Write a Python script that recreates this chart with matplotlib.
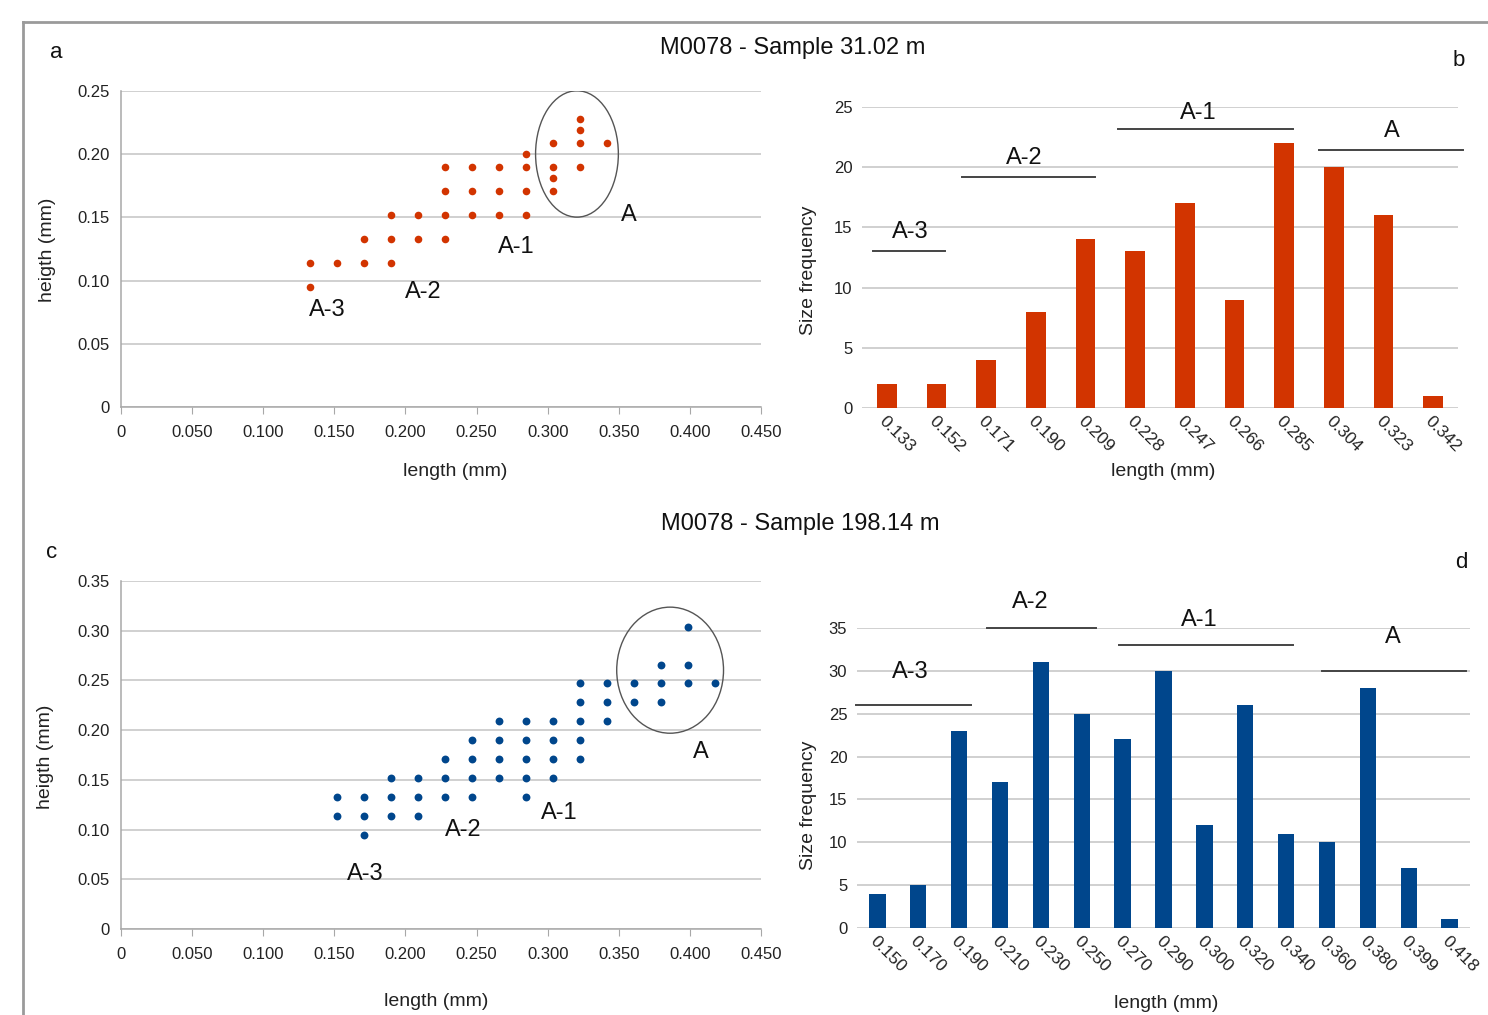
import matplotlib
matplotlib.use("Agg")
import matplotlib.pyplot as plt
from matplotlib.patches import Ellipse
from matplotlib.lines import Line2D

plt.rcParams['font.family'] = ['Liberation Sans', 'DejaVu Sans']

# ---------------- data ----------------
title_top = "M0078 - Sample 31.02 m"
title_bottom = "M0078 - Sample 198.14 m"

# panel a: scatter (length, height) in mm
a_len = [0.133, 0.133, 0.152, 0.171, 0.171, 0.190, 0.190, 0.190, 0.209, 0.209,
         0.228, 0.228, 0.228, 0.228, 0.247, 0.247, 0.247, 0.266, 0.266, 0.266,
         0.285, 0.285, 0.285, 0.285, 0.304, 0.304, 0.304, 0.304,
         0.323, 0.323, 0.323, 0.323, 0.342]
a_hgt = [0.095, 0.114, 0.114, 0.114, 0.133, 0.114, 0.133, 0.152, 0.133, 0.152,
         0.133, 0.152, 0.171, 0.190, 0.152, 0.171, 0.190, 0.152, 0.171, 0.190,
         0.152, 0.171, 0.190, 0.200, 0.171, 0.181, 0.190, 0.209,
         0.190, 0.209, 0.219, 0.228, 0.209]

# panel b: size frequency
b_cats = ["0.133", "0.152", "0.171", "0.190", "0.209", "0.228", "0.247",
          "0.266", "0.285", "0.304", "0.323", "0.342"]
b_vals = [2, 2, 4, 8, 14, 13, 17, 9, 22, 20, 16, 1]

# panel c: scatter (length, height) in mm
c_len = [0.152, 0.152,
         0.171, 0.171, 0.171,
         0.190, 0.190, 0.190,
         0.209, 0.209, 0.209,
         0.228, 0.228, 0.228,
         0.247, 0.247, 0.247, 0.247,
         0.266, 0.266, 0.266, 0.266,
         0.285, 0.285, 0.285, 0.285, 0.285,
         0.304, 0.304, 0.304, 0.304,
         0.323, 0.323, 0.323, 0.323, 0.323,
         0.342, 0.342, 0.342,
         0.361, 0.361,
         0.380, 0.380, 0.380,
         0.399, 0.399, 0.399,
         0.418]
c_hgt = [0.114, 0.133,
         0.095, 0.114, 0.133,
         0.114, 0.133, 0.152,
         0.114, 0.133, 0.152,
         0.133, 0.152, 0.171,
         0.133, 0.152, 0.171, 0.190,
         0.152, 0.171, 0.190, 0.209,
         0.133, 0.152, 0.171, 0.190, 0.209,
         0.152, 0.171, 0.190, 0.209,
         0.171, 0.190, 0.209, 0.228, 0.247,
         0.209, 0.228, 0.247,
         0.228, 0.247,
         0.228, 0.247, 0.266,
         0.247, 0.266, 0.304,
         0.247]

# panel d: size frequency
d_cats = ["0.150", "0.170", "0.190", "0.210", "0.230", "0.250", "0.270", "0.290",
          "0.300", "0.320", "0.340", "0.360", "0.380", "0.399", "0.418"]
d_vals = [4, 5, 23, 17, 31, 25, 22, 30, 12, 26, 11, 10, 28, 7, 1]

x_ticks = [0, 0.05, 0.10, 0.15, 0.20, 0.25, 0.30, 0.35, 0.40, 0.45]
x_ticklabels = ["0", "0.050", "0.100", "0.150", "0.200", "0.250", "0.300", "0.350", "0.400", "0.450"]

RED = "#d23400"
BLUE = "#00468c"
GRID = "#c4c4c4"
SPINE = "#a8a8a8"

W, H = 1488, 1015
fig = plt.figure(figsize=(W / 100, H / 100), dpi=100)


def px_axes(l, t, r, b):
    return fig.add_axes([l / W, 1 - b / H, (r - l) / W, (b - t) / H])


def set_labels(ax, box, xl_center_x, xl_top_y, yl_right_x, yl_center_y):
    l, t, r, b = box
    ax.xaxis.set_label_coords((xl_center_x - l) / (r - l), -(xl_top_y - b) / (b - t))
    ax.yaxis.set_label_coords(-(l - yl_right_x) / (r - l), (b - yl_center_y) / (b - t))


def style_scatter(ax, ymax, yticks, ylabels):
    ax.set_xlim(0, 0.45)
    ax.set_ylim(0, ymax)
    ax.set_xticks(x_ticks)
    ax.set_xticklabels(x_ticklabels, fontsize=12)
    ax.set_yticks(yticks)
    ax.set_yticklabels(ylabels, fontsize=12)
    ax.grid(axis='y', color=GRID, linewidth=1.1)
    ax.set_axisbelow(True)
    for s in ['top', 'right']:
        ax.spines[s].set_visible(False)
    for s in ['left', 'bottom']:
        ax.spines[s].set_color(SPINE)
        ax.spines[s].set_linewidth(1.1)
    ax.tick_params(axis='x', length=5, color=SPINE, pad=8, labelcolor='#222222')
    ax.tick_params(axis='y', length=0, pad=8, labelcolor='#222222')
    ax.set_xlabel("length (mm)", fontsize=14, color='#222222')
    ax.set_ylabel("heigth (mm)", fontsize=14, color='#222222')


def style_bar(ax, cats, vals, color, ymax, yticks):
    x = list(range(len(cats)))
    ax.bar(x, vals, width=0.4, color=color, zorder=3)
    ax.set_xlim(-0.5, len(cats) - 0.5)
    ax.set_ylim(0, ymax)
    ax.set_yticks(yticks)
    ax.set_yticklabels([str(v) for v in yticks], fontsize=12)
    ax.set_xticks(x)
    ax.set_xticklabels(cats, fontsize=12.5, rotation=-45, ha='left', va='top',
                       rotation_mode='anchor')
    ax.grid(axis='y', color=GRID, linewidth=1.1, zorder=0)
    ax.set_axisbelow(True)
    for s in ['top', 'right', 'left', 'bottom']:
        ax.spines[s].set_visible(False)
    ax.tick_params(axis='x', length=0, pad=4, labelcolor='#222222')
    ax.tick_params(axis='y', length=0, pad=7, labelcolor='#222222')
    ax.set_ylabel("Size frequency", fontsize=14, color='#222222')
    ax.set_xlabel("length (mm)", fontsize=14, color='#222222')


def group_line(ax, x0, x1, y, label, tx, ty):
    ax.add_line(Line2D([x0, x1], [y, y], color='#444444', linewidth=1.4, clip_on=False, zorder=4))
    ax.text(tx, ty, label, fontsize=17, ha='center', va='center', color='#111111', clip_on=False)


# ---------- panel a ----------
box_a = (121, 91, 761, 407)
ax_a = px_axes(*box_a)
ax_a.scatter(a_len, a_hgt, s=30, color=RED, zorder=3, linewidths=0)
style_scatter(ax_a, 0.25, [0, 0.05, 0.10, 0.15, 0.20, 0.25],
              ["0", "0.05", "0.10", "0.15", "0.20", "0.25"])
set_labels(ax_a, box_a, 455, 463, 56, 250)
ax_a.add_patch(Ellipse((0.3206, 0.2002), 0.0582, 0.1, fill=False, edgecolor='#555555', linewidth=1.0, zorder=4))
for txt, tx, ty in [("A-3", 0.145, 0.0764), ("A-2", 0.2127, 0.0908), ("A-1", 0.278, 0.1266), ("A", 0.357, 0.152)]:
    ax_a.text(tx, ty, txt, fontsize=17, ha='center', va='center', color='#111111')

# ---------- panel b ----------
box_b = (862, 107, 1458, 408)
ax_b = px_axes(*box_b)
style_bar(ax_b, b_cats, b_vals, RED, 25, [0, 5, 10, 15, 20, 25])
set_labels(ax_b, box_b, 1163, 463, 817, 270)
group_line(ax_b, -0.27, 1.18, 13.0, "A-3", 0.47, 14.6)
group_line(ax_b, 1.51, 4.20, 19.2, "A-2", 2.76, 20.8)
group_line(ax_b, 4.66, 8.18, 23.2, "A-1", 6.28, 24.5)
group_line(ax_b, 8.70, 11.60, 21.4, "A", 10.17, 23.0)

# ---------- panel c ----------
box_c = (121, 581, 761, 929)
ax_c = px_axes(*box_c)
ax_c.scatter(c_len, c_hgt, s=32, color=BLUE, zorder=3, linewidths=0)
style_scatter(ax_c, 0.35, [0, 0.05, 0.10, 0.15, 0.20, 0.25, 0.30, 0.35],
              ["0", "0.05", "0.10", "0.15", "0.20", "0.25", "0.30", "0.35"])
set_labels(ax_c, box_c, 436, 993, 54, 757)
ax_c.add_patch(Ellipse((0.3861, 0.2603), 0.0751, 0.1268, fill=False, edgecolor='#555555', linewidth=1.0, zorder=4))
for txt, tx, ty in [("A-3", 0.172, 0.0553), ("A-2", 0.2404, 0.0996), ("A-1", 0.3083, 0.1164), ("A", 0.4078, 0.1778)]:
    ax_c.text(tx, ty, txt, fontsize=17, ha='center', va='center', color='#111111')

# ---------- panel d ----------
box_d = (857, 628, 1470, 928)
ax_d = px_axes(*box_d)
style_bar(ax_d, d_cats, d_vals, BLUE, 35, [0, 5, 10, 15, 20, 25, 30, 35])
set_labels(ax_d, box_d, 1166, 995, 817, 805)
group_line(ax_d, -0.53, 2.29, 26.0, "A-3", 0.80, 29.9)
group_line(ax_d, 2.68, 5.35, 35.05, "A-2", 3.73, 38.0)
group_line(ax_d, 5.91, 10.17, 33.05, "A-1", 7.87, 35.9)
group_line(ax_d, 10.89, 14.41, 30.0, "A", 12.6, 33.9)

# ---------- titles, panel letters, frame ----------
fig.text(793 / W, 1 - 48 / H, title_top, fontsize=17, ha='center', va='center', color='#111111')
fig.text(800 / W, 1 - 524 / H, title_bottom, fontsize=17, ha='center', va='center', color='#111111')
for letter, x, y in [("a", 56, 53), ("b", 1459, 60), ("c", 52, 553), ("d", 1461, 562)]:
    fig.text(x / W, 1 - y / H, letter, fontsize=16, ha='center', va='center', color='#111111')

fig.add_artist(Line2D([23 / W, 1.0], [1 - 22 / H, 1 - 22 / H], color='#9a9a9a', linewidth=2, transform=fig.transFigure))
fig.add_artist(Line2D([23 / W, 23 / W], [0, 1 - 22 / H], color='#9a9a9a', linewidth=2, transform=fig.transFigure))

fig.savefig("out.png", dpi=100)
